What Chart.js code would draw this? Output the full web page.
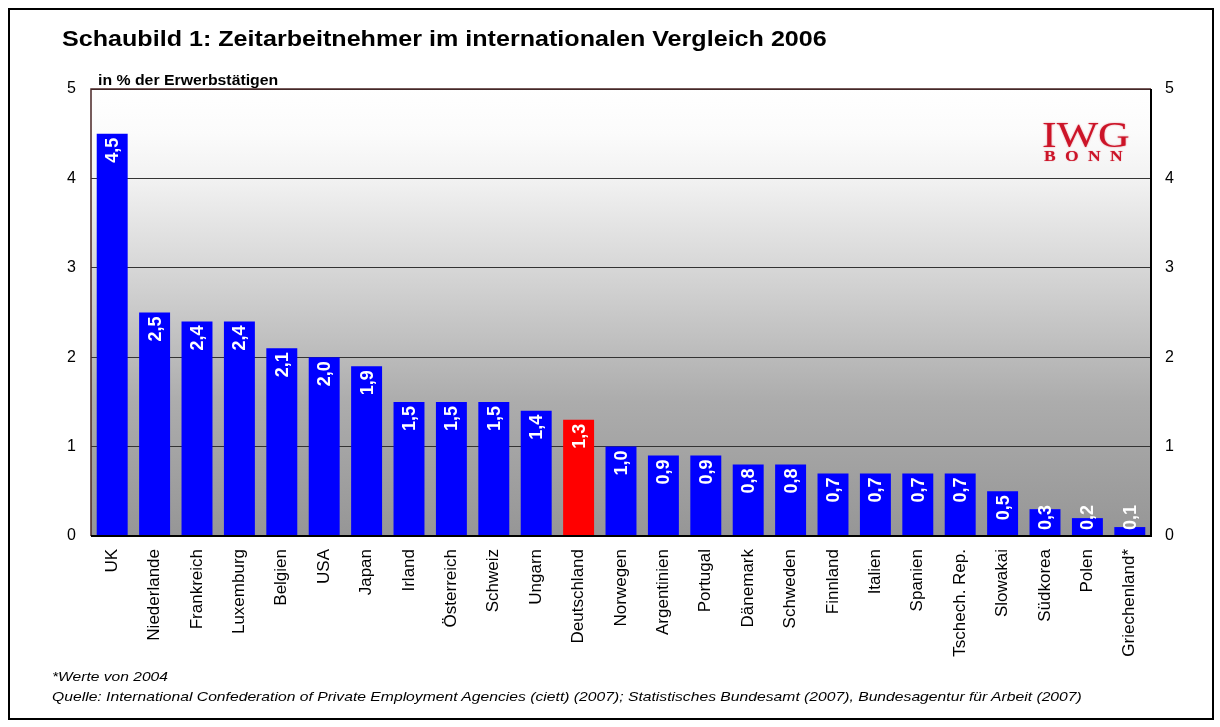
<!DOCTYPE html>
<html>
<head>
<meta charset="utf-8">
<script src="https://cdn.jsdelivr.net/npm/chart.js@4/dist/chart.umd.min.js"></script>
<style>
  html,body{margin:0;padding:0;background:#fff;}
  body{width:1220px;height:727px;position:relative;overflow:hidden;font-family:"Liberation Sans",Arial,sans-serif;}
  #frame{position:absolute;left:8px;top:8px;width:1202px;height:708px;border:2px solid #000;}
  #c{position:absolute;left:0;top:0;}
  .t{position:absolute;white-space:nowrap;color:#000;transform-origin:0 0;}
  #title{left:62px;top:27px;font-weight:bold;font-size:21.5px;transform:scaleX(1.168);}
  #sub{left:98px;top:72px;font-weight:bold;font-size:14px;transform:scaleX(1.13);}
  #f1{left:52px;top:669px;font-style:italic;font-size:13px;transform:scaleX(1.2);}
  #f2{left:52px;top:689px;font-style:italic;font-size:13px;transform:scaleX(1.207);}
  #logo1{left:1042px;top:117px;line-height:1;font-family:"Liberation Serif","Times New Roman",serif;font-size:36px;color:#cc1428;transform:scaleX(1.22);text-shadow:0 0 1.5px rgba(204,20,40,0.6);}
  #logo2{left:1044px;top:150px;line-height:1;font-family:"Liberation Serif","Times New Roman",serif;font-weight:bold;font-size:14px;color:#cc1428;letter-spacing:7.5px;transform:scaleX(1.25);text-shadow:0 0 1px rgba(204,20,40,0.6);}
</style>
</head>
<body>
<div id="frame"></div>
<canvas id="c" width="1220" height="727"></canvas>
<div class="t" id="title">Schaubild 1: Zeitarbeitnehmer im internationalen Vergleich 2006</div>
<div class="t" id="sub">in % der Erwerbstätigen</div>
<div class="t" id="logo1">IWG</div>
<div class="t" id="logo2">BONN</div>
<div class="t" id="f1">*Werte von 2004</div>
<div class="t" id="f2">Quelle: International Confederation of Private Employment Agencies (ciett) (2007); Statistisches Bundesamt (2007), Bundesagentur für Arbeit (2007)</div>
<script>
const categories = ["UK","Niederlande","Frankreich","Luxemburg","Belgien","USA","Japan","Irland","Österreich","Schweiz","Ungarn","Deutschland","Norwegen","Argentinien","Portugal","Dänemark","Schweden","Finnland","Italien","Spanien","Tschech. Rep.","Slowakai","Südkorea","Polen","Griechenland*"];
const values = [4.5,2.5,2.4,2.4,2.1,2.0,1.9,1.5,1.5,1.5,1.4,1.3,1.0,0.9,0.9,0.8,0.8,0.7,0.7,0.7,0.7,0.5,0.3,0.2,0.1];
const highlight = "Deutschland";
const yTicks = [0,1,2,3,4,5];

const barColors = categories.map(c => c === highlight ? "#ff0000" : "#0000ff");

const bgPlugin = {
  id: "bg",
  beforeDraw(chart) {
    const {ctx, chartArea: a} = chart;
    const g = ctx.createLinearGradient(0, a.top, 0, a.bottom);
    g.addColorStop(0, "#ffffff");
    g.addColorStop(0.1, "#fbfbfb");
    g.addColorStop(0.2, "#f2f2f2");
    g.addColorStop(0.45, "#d0d0d0");
    g.addColorStop(0.7, "#acacac");
    g.addColorStop(1, "#969696");
    ctx.save();
    ctx.fillStyle = g;
    ctx.fillRect(a.left, a.top, a.right - a.left, a.bottom - a.top);
    ctx.restore();
  },
  afterDraw(chart) {
    const {ctx, chartArea: a} = chart;
    ctx.save();
    ctx.lineWidth = 1.5;
    ctx.strokeStyle = "#4a2626";
    ctx.beginPath();
    ctx.moveTo(a.left, a.bottom); ctx.lineTo(a.left, a.top); ctx.lineTo(a.right, a.top);
    ctx.stroke();
    ctx.strokeStyle = "#000";
    ctx.lineWidth = 2;
    ctx.beginPath();
    ctx.moveTo(a.right, a.top); ctx.lineTo(a.right, a.bottom); ctx.lineTo(a.left, a.bottom);
    ctx.stroke();
    ctx.restore();
  }
};

const labelPlugin = {
  id: "vlabels",
  afterDatasetsDraw(chart) {
    const {ctx} = chart;
    const meta = chart.getDatasetMeta(0);
    const base = chart.scales.y.getPixelForValue(0);
    ctx.save();
    ctx.font = "bold 18px 'Liberation Sans', Arial, sans-serif";
    ctx.fillStyle = "#ffffff";
    ctx.textBaseline = "middle";
    meta.data.forEach((bar, i) => {
      const txt = values[i].toFixed(1).replace(".", ",");
      const w = ctx.measureText(txt).width;
      let top = bar.y + 4;
      if (top + w > base - 6) top = base - 6 - w;
      ctx.save();
      ctx.translate(bar.x + 1, top);
      ctx.rotate(-Math.PI / 2);
      ctx.textAlign = "right";
      ctx.fillText(txt, 0, 0);
      ctx.restore();
    });
    ctx.restore();
  }
};

const tickFont = {family: "'Liberation Sans', Arial, sans-serif", size: 16};

new Chart(document.getElementById("c"), {
  type: "bar",
  data: {
    labels: categories,
    datasets: [{
      data: values,
      backgroundColor: barColors,
      borderWidth: 0,
      categoryPercentage: 1,
      barPercentage: 0.73
    }]
  },
  options: {
    responsive: false,
    animation: false,
    devicePixelRatio: 1,
    layout: {padding: {top: 89, bottom: 0, left: 0, right: 0}},
    plugins: {legend: {display: false}, tooltip: {enabled: false}, title: {display: false}},
    scales: {
      x: {
        grid: {display: false},
        border: {display: false},
        ticks: {
          autoSkip: false, maxRotation: 90, minRotation: 90, padding: 5,
          color: "#000", font: {family: "'Liberation Sans', Arial, sans-serif", size: 17}
        },
        afterFit(s) { s.height = 727 - 536; }
      },
      y: {
        position: "left", min: 0, max: 5,
        afterBuildTicks(s) { s.ticks = yTicks.map(v => ({value: v})); },
        ticks: {color: "#000", font: tickFont, padding: 15},
        grid: {color: "#333333", drawTicks: false, lineWidth: 1},
        border: {display: false},
        afterFit(s) { s.width = 91; }
      },
      y2: {
        position: "right", min: 0, max: 5,
        afterBuildTicks(s) { s.ticks = yTicks.map(v => ({value: v})); },
        ticks: {color: "#000", font: tickFont, padding: 14},
        grid: {display: false, drawTicks: false},
        border: {display: false},
        afterFit(s) { s.width = 1220 - 1151; }
      }
    }
  },
  plugins: [bgPlugin, labelPlugin]
});
</script>
</body>
</html>
